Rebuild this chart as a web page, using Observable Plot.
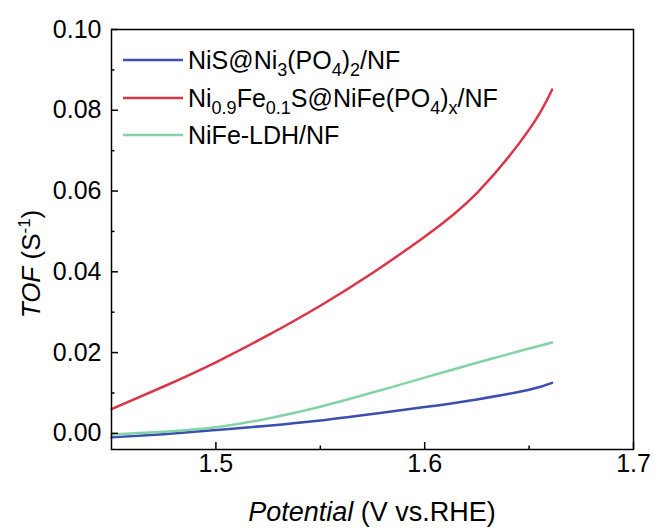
<!DOCTYPE html>
<html><head><meta charset="utf-8">
<script src="https://cdn.jsdelivr.net/npm/d3@7"></script>
<script src="https://cdn.jsdelivr.net/npm/@observablehq/plot@0.6"></script>
<style>
body{margin:0;background:#fff;}
#chart{width:654px;height:528px;}
svg{font-family:"Liberation Sans",Arial,sans-serif;}
</style>
</head><body><div id="chart"></div>
<script>
// Data
const potential = [1.45, 1.475, 1.5, 1.525, 1.55, 1.575, 1.6, 1.625, 1.65, 1.661];
const tofNiS = [-0.0010, -0.0002, 0.0008, 0.0019, 0.0032, 0.0048, 0.0065, 0.0084, 0.0108, 0.0125];
const tofNiFeS = [0.0060, 0.0116, 0.0176, 0.0243, 0.0316, 0.0397, 0.0487, 0.0595, 0.0752, 0.0851];
const tofLDH = [-0.0003, 0.0004, 0.0015, 0.0037, 0.0066, 0.0101, 0.0138, 0.0175, 0.0210, 0.0225];
const seriesNames = ["NiS@Ni3(PO4)2/NF", "Ni0.9Fe0.1S@NiFe(PO4)x/NF", "NiFe-LDH/NF"];
const seriesColors = ["#3b4fae", "#dc3448", "#82d3a6"];
const xTicks = [1.5, 1.6, 1.7];
const xMinor = [1.55, 1.65];
const yTicks = [0, 0.02, 0.04, 0.06, 0.08, 0.10];
const yMinor = [0.01, 0.03, 0.05, 0.07, 0.09];

const seriesValues = [tofNiS, tofNiFeS, tofLDH];
const rows = seriesValues.flatMap((vals, i) => vals.map((v, j) => ({series: seriesNames[i], x: potential[j], y: v})));

const W = 654, H = 528, mL = 111, mR = 21, mT = 29, mB = 79;
const pW = W - mL - mR, pH = H - mT - mB;

const chart = Plot.plot({
  width: W, height: H,
  marginLeft: mL, marginRight: mR, marginTop: mT, marginBottom: mB,
  style: {fontFamily: '"Liberation Sans", Arial, sans-serif', fontSize: "25px", color: "#000", background: "#fff"},
  x: {domain: [1.45, 1.7], label: null},
  y: {domain: [-0.004, 0.10], label: null},
  color: {domain: seriesNames, range: seriesColors},
  marks: [
    Plot.line(rows, {x: "x", y: "y", stroke: "series", z: "series", strokeWidth: 2.5, curve: "natural"}),
    Plot.frame({stroke: "#000", strokeWidth: 1.5}),
    Plot.tickX(xTicks, {stroke: "#000", strokeWidth: 1.5, insetTop: pH - 7}),
    Plot.tickX(xMinor, {stroke: "#000", strokeWidth: 1.5, insetTop: pH - 3.5}),
    Plot.tickY(yTicks, {stroke: "#000", strokeWidth: 1.5, insetRight: pW - 7}),
    Plot.tickY(yMinor, {stroke: "#000", strokeWidth: 1.5, insetRight: pW - 3.5}),
    Plot.axisX({ticks: xTicks, tickSize: 0, tickPadding: 5, tickFormat: d3.format(".1f"), label: null, fontSize: 25}),
    Plot.axisY({ticks: yTicks, tickSize: 0, tickPadding: 10, tickFormat: d3.format(".2f"), label: null, fontSize: 25})
  ]
});
document.getElementById("chart").appendChild(chart);

const svg = d3.select(chart);
const ff = '"Liberation Sans", Arial, sans-serif';

// Axis titles
const xt = svg.append("text").attr("x", mL + pW / 2).attr("y", 521).attr("text-anchor", "middle")
  .attr("font-size", 27).attr("font-family", ff).attr("fill", "#000");
xt.append("tspan").attr("font-style", "italic").text("Potential");
xt.append("tspan").text(" (V vs.RHE)");

const yt = svg.append("text").attr("transform", "translate(40,264) rotate(-90)").attr("text-anchor", "middle")
  .attr("font-size", 26).attr("font-family", ff).attr("fill", "#000");
yt.append("tspan").attr("font-style", "italic").text("TOF");
yt.append("tspan").text(" (S");
yt.append("tspan").attr("font-size", 17).attr("dy", -10).text("-1");
yt.append("tspan").attr("dy", 10).text(")");

// Legend
const legendParts = [
  [["NiS@Ni", 0], ["3", 1], ["(PO", 0], ["4", 1], [")", 0], ["2", 1], ["/NF", 0]],
  [["Ni", 0], ["0.9", 1], ["Fe", 0], ["0.1", 1], ["S@NiFe(PO", 0], ["4", 1], [")", 0], ["x", 1], ["/NF", 0]],
  [["NiFe-LDH/NF", 0]]
];
const legendY = [60, 98, 135];
legendParts.forEach((parts, i) => {
  const g = svg.append("g");
  g.append("line").attr("x1", 123).attr("x2", 183).attr("y1", legendY[i]).attr("y2", legendY[i])
    .attr("stroke", seriesColors[i]).attr("stroke-width", 2.5);
  const t = g.append("text").attr("x", 188).attr("y", legendY[i] + 9).attr("text-anchor", "start")
    .attr("font-size", 25).attr("font-family", ff).attr("fill", "#000");
  let shifted = 0;
  parts.forEach(([s, sub]) => {
    const ts = t.append("tspan").text(s);
    if (sub) { ts.attr("font-size", 18).attr("dy", 7 - shifted); shifted = 7; }
    else { ts.attr("dy", -shifted); shifted = 0; }
  });
});
</script>
</body></html>
